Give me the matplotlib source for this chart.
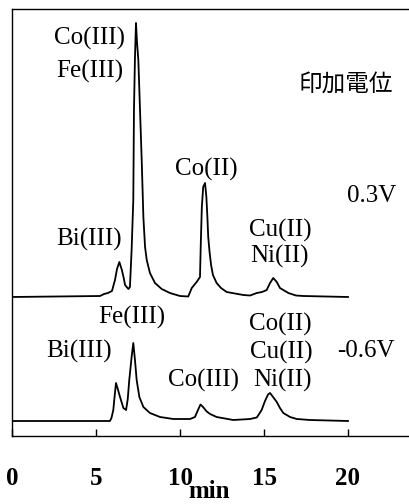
import matplotlib
matplotlib.use("Agg")
import matplotlib.pyplot as plt

# Chromatogram at applied potential 0.3 V (upper trace)
t_high = [0.0, 5.24, 5.48, 5.71, 5.95, 6.13, 6.25, 6.39, 6.54, 6.65, 6.73, 6.93,
          7.02, 7.12, 7.22, 7.26, 7.32, 7.38, 7.44, 7.52, 7.62, 7.72, 7.82, 7.92,
          8.02, 8.21, 8.51, 8.91, 9.40, 10.0, 10.49, 10.70, 10.99, 11.19, 11.24,
          11.30, 11.38, 11.49, 11.57, 11.63, 11.68, 11.76, 11.85, 11.96, 12.18,
          12.44, 12.78, 13.77, 14.17, 14.57, 14.88, 15.16, 15.36, 15.55, 15.76,
          15.95, 16.45, 16.90, 17.34, 20.0]
s_high = [0, 1, 3, 4, 6, 17, 28, 35, 27, 19, 12, 8,
          10, 47, 97, 187, 240, 274, 255, 237, 187, 137, 80, 50,
          37, 24, 14, 8, 4, 1, 0.5, 9, 15, 20, 55,
          90, 110, 114, 100, 80, 60, 45, 32, 22, 14,
          9, 5, 2, 1.5, 4, 5, 7, 14, 19, 15,
          9, 4, 1.5, 1, 0]

# Chromatogram at applied potential -0.6 V (lower trace)
t_low = [0.0, 5.83, 5.92, 6.03, 6.11, 6.19, 6.28, 6.43, 6.63, 6.79, 6.89, 6.98,
         7.12, 7.22, 7.32, 7.42, 7.58, 7.82, 8.21, 8.81, 9.60, 10.60, 10.89,
         11.07, 11.22, 11.37, 11.59, 11.79, 12.18, 13.17, 14.17, 14.57, 14.67,
         14.86, 15.06, 15.24, 15.36, 15.54, 15.76, 15.95, 16.15, 16.55, 16.95,
         17.74, 20.0]
s_low = [0, 0, 3, 11, 25, 38, 33, 24, 13, 11, 22, 41,
         64, 78, 61, 41, 24, 14, 8, 4, 2, 2, 4,
         11, 16.5, 14, 9.5, 7, 4, 1, 2, 3.5, 6,
         11, 20, 26.5, 28, 24, 19, 13, 8, 4, 2,
         1, 0]

x_ticks = [0, 5, 10, 15, 20]
x_tick_labels = ["0", "5", "10", "15", "20"]

# vertical placement of the two traces
off_high = 139
off_low = 15

W, H = 409, 504
fig = plt.figure(figsize=(W / 100, H / 100), dpi=100)
ax = fig.add_axes([12 / W, (H - 436) / H, (W - 12) / W, 427 / H])
ax.set_xlim(0, (W - 12) / 16.8)
ax.set_ylim(0, 427)

ax.plot(t_high, [v + off_high for v in s_high], color="black", lw=1.3)
ax.plot(t_low, [v + off_low for v in s_low], color="black", lw=1.3)

for side in ["left", "top", "bottom"]:
    ax.spines[side].set_linewidth(1.0)
ax.spines["right"].set_visible(False)
ax.set_yticks([])
ax.set_xticks(x_ticks)
ax.set_xticklabels(x_tick_labels, fontfamily="Liberation Serif",
                   fontweight="bold", fontsize=18)
ax.tick_params(axis="x", direction="in", length=5, width=1.0, pad=22)

serif = dict(fontfamily="Liberation Serif", fontsize=18, ha="center",
             va="center", color="black")
labels = [
    ("Co(III)", 4.64, 398), ("Fe(III)", 4.64, 365),
    ("Co(II)", 11.55, 267), ("0.3V", 21.43, 240),
    ("Cu(II)", 15.95, 206), ("Bi(III)", 4.58, 197), ("Ni(II)", 15.95, 180),
    ("Fe(III)", 7.14, 119), ("Co(II)", 15.95, 112),
    ("Bi(III)", 3.99, 85), ("Cu(II)", 16.01, 84), ("-0.6V", 21.07, 85),
    ("Co(III)", 11.37, 56), ("Ni(II)", 16.07, 56),
]
for txt, x, y in labels:
    ax.text(x, y, txt, **serif)

ax.text(19.88, 352, "印加電位", fontfamily=["Noto Sans CJK JP", "DejaVu Sans"],
        fontsize=17, ha="center", va="center", color="black")

fig.text(209 / W, 6 / H, "min", fontfamily="Liberation Serif",
         fontweight="bold", fontsize=18, ha="center", va="baseline")

fig.savefig("out.png", dpi=100)
